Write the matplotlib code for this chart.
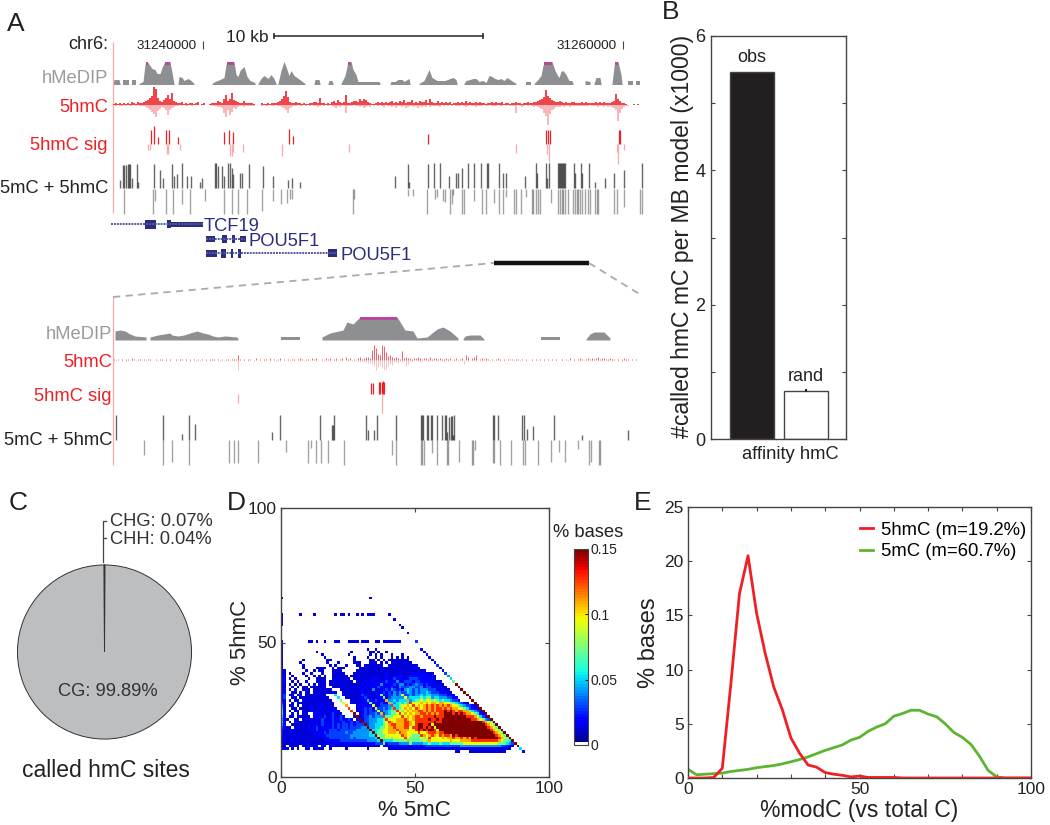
import numpy as np
import matplotlib
matplotlib.use('Agg')
import matplotlib.pyplot as plt
from matplotlib.colors import ListedColormap

plt.rcParams['font.family'] = ['Liberation Sans', 'DejaVu Sans']

W, H = 1050, 825

#panel A, x in figure pixels along the browser track, h in pixels above the baseline
MEDIP_TOP = [
    [(113,1),(114,5),(119,5),(120,1)], [(123,1),(123,5),(129,5),(129,1)], [(132,1),(132,5),(136,5),(136,1)],
    [(139,1),(143,3),(145,20),(147,23),(150,19),(152,16),(155,15),(157,11),(160,11),(162,17),(165,23),(170,23),(172,12),(174,1)],
    [(178,1),(179,8),(182,7),(184,4),(188,6),(191,4),(194,1)],
    [(212,1),(215,3),(220,5),(224,7),(226,20),(228,23),(234,23),(236,10),(238,8),(240,14),(244,18),(247,8),(250,4),(255,2),(255,1)],
    [(258,1),(261,6),(264,9),(268,6),(271,10),(274,6),(276,1)],
    [(278,1),(281,14),(284,23),(287,15),(289,9),(291,14),(294,9),(297,7),(301,4),(305,1)],
    [(314,1),(315,5),(319,5),(320,1)], [(328,1),(329,4),(332,4),(333,1)],
    [(341,1),(345,9),(348,23),(351,23),(353,15),(356,10),(358,3),(379,3),(380,1)],
    [(390,1),(391,3),(395,3),(398,5),(402,5),(404,3),(409,6),(410,1)],
    [(419,1),(424,4),(429,15),(432,7),(437,4),(445,4),(450,6),(453,7),(456,5),(457,1)],
    [(464,1),(466,4),(470,5),(473,6),(476,6),(479,3),(483,4),(486,2),(489,9),(492,8),(495,6),(498,5),(501,6),(504,4),(507,7),(510,5),(513,3),(516,1)],
    [(526,1),(526,3),(531,3),(531,1)],
    [(534,1),(538,5),(541,9),(543,19),(545,23),(552,23),(555,14),(557,10),(559,7),(561,13),(563,14),(566,10),(569,4),(572,4),(573,1)],
    [(585,1),(585,4),(590,3),(590,1)], [(594,1),(596,7),(600,7),(601,1)],
    [(612,1),(614,18),(615,23),(618,23),(621,10),(622,1)],
    [(628,1),(628,4),(633,4),(633,1)], [(636,1),(636,4),(640,4),(640,1)],
]
MEDIP_TOP_CALLS = [(146,148,23), (165,170,23), (227,234,23), (348,351,23), (544,552,23), (615,618,23)]
MEDIP_LOW = [
    [(115,1),(115,9),(120,10),(125,9),(130,6),(135,4),(146,3),(146,1)],
    [(150,1),(150,3),(158,5),(164,6),(170,7),(172,5),(178,4),(184,5),(190,7),(197,9),(203,7),(208,6),(213,4),(218,3),(225,4),(237,3),(238,1)],
    [(281,1),(281,3),(300,3),(300,1)],
    [(322,1),(322,3),(330,7),(343,10),(347,18),(353,16),(360,23),(397,23),(405,10),(413,9),(417,2),(427,3),(437,11),(443,13),(450,9),(458,2),(458,1)],
    [(463,1),(465,4),(470,5),(480,5),(484,1)],
    [(541,1),(541,3),(560,3),(560,1)],
    [(586,1),(590,6),(594,8),(604,8),(610,2),(610,1)],
]
MEDIP_LOW_CALLS = [(360,397,23)]

#signal heights per 2 px column, base 36 digits
HMC_TOP_UP = ("12121212132132234579ig74357a6c4322312122"
              "1230120012224326a46c5432242222100021121"
              "2223469e832232212112233272212134253 23a22".replace(' ', '') +
              "3443646532112323232342324352335232433526"
              "3224232323122323242322323221223232231221"
              "22322122322334568f9754334323223322232322"
              "223232322234b64221000101")
HMC_TOP_DOWN = ("010110101101011123579c64235a532110101101"
                "0000000001112238c5a734211211111000101101"
                "1011235832110110101011210101012312118111"
                "0112132120101012011213112132112131212021"
                "1112010101011101210112111011011101101011"
                "1801210101212348bk9542221211211111111101"
                "112112121235g84211000000")
HMC_LOW_UP = ("1010101102101101011001011010100101101010"
              "1010101011101010110111510101100201011020"
              "1012010101101210110212001021201201203120"
              "102312332afc65fe84532321923221223212213"
              "1221211212012012053023501212101012101011"
              "1011010100101010101010100101020101210121"
              "212312211211010121101010")
HMC_LOW_DOWN = ("0100101001010010101000101010100101001010"
                "0101001010100101001010a00101001001010010"
                "0101001010100101001001000100100100100101"
                "01121223346a758a9645223121641200121001"
                "1101101201011010140101010010101010010100"
                "0010010010010010010010010010010010010100"
                "010010100101001010100000")

SIG_TOP_UP = [(151,14),(154,18),(158,7),(166,14),(169,14),(178,7),(224,12),(229,14),(233,12),(289,15),(293,8),
              (428,10),(546,14),(548,14),(550,14),(619,14),(620,14)]
SIG_TOP_DOWN = [(148,6),(150,6),(167,10),(168,10),(180,6),(230,12),(232,12),(233,8),(243,8),(282,12),(349,8),(516,9),
                (547,10),(549,18),(617,8),(618,20),(624,6)]
SIG_LOW_UP = [(371,11),(373,11),(379,12),(380,12),(382,12),(383,13),(384,12)]
SIG_LOW_DOWN = [(238,9),(382,19)]

MC_TOP_UP = [(120,8),(123,23),(124,23),(126,23),(128,24),(129,24),(130,24),(132,10),(137,24),(138,6),(154,24),(160,18),(163,10),
             (172,24),(174,12),(177,14),(182,25),(187,12),(191,12),(200,6),(202,10),(215,25),(216,25),(218,22),(222,22),(224,12),
             (228,25),(230,25),(232,20),(233,14),(240,15),(242,15),(249,24),(263,22),(273,12),(288,8),(292,10),(300,6),
             (395,12),(408,24),(409,6),(428,24),(434,25),(440,25),(449,12),(456,15),(458,15),(462,20),(468,25),(474,25),(481,25),
             (487,25),(488,25),(499,25),(503,15),(506,15),(525,12),(536,25),(537,15),(546,25),(547,10),(549,25),
             (558,25),(559,25),(560,25),(561,25),(562,25),(563,25),(564,25),(565,25),(574,25),(575,15),(581,25),(582,15),(589,25),
             (595,6),(605,10),(614,15),(624,18),(642,25)]
MC_TOP_DOWN = [(124,25),(153,25),(155,12),(166,25),(173,25),(182,15),(190,25),(205,12),(224,25),(232,25),(238,25),(247,25),
               (262,22),(273,12),(281,15),(287,14),(290,10),(292,10),(353,25),(354,10),(408,7),(413,7),(427,25),(435,10),(437,8),
               (443,12),(445,13),(450,25),(452,15),(453,6),(462,25),(464,25),(474,12),(482,25),(486,25),(494,14),(499,25),(503,25),(506,8),
               (514,25),(516,25),(521,25),(526,8),(532,25),(533,25),(536,25),(538,25),(540,25),(551,14),(558,25),(560,25),(562,25),(563,25),
               (565,25),(568,25),(573,25),(575,25),(577,25),(578,25),(580,25),(582,25),(585,25),(588,25),(590,25),(595,25),(597,25),
               (598,25),(614,25),(617,25),(624,18),(640,25),(642,25)]
MC_LOW_UP = [(116,25),(163,25),(182,6),(189,25),(195,16),(272,8),(280,25),(320,25),(332,15),(333,15),(334,25),(366,25),(368,10),(374,10),
             (377,25),(396,25),(421,25),(422,25),(423,25),(427,25),(428,25),(431,25),(432,25),(437,25),(442,25),(445,25),(446,25),(449,23),
             (447,8),(451,24),(452,24),(453,5),(454,25),(493,25),(494,25),(498,25),(522,25),(524,25),(527,11),(533,14),(554,25),(582,5),(628,10)]
MC_LOW_DOWN = [(144,15),(163,25),(172,22),(189,25),(229,23),(234,23),(238,23),(258,23),(286,12),(308,23),(311,8),(316,23),(321,23),(328,23),
               (344,25),(392,15),(396,25),(421,25),(422,25),(424,25),(432,13),(437,25),(447,25),(448,25),(459,22),(472,25),(473,25),(475,10),
               (493,23),(494,23),(500,25),(511,25),(523,25),(525,25),(538,25),(551,22),(559,12),(565,22),(578,9),(589,25),(591,22),(599,25),(600,25)]

#gene models: x0, x1, y, height
GENE_BLOCKS = [(145,156,224,9), (167,171,224,8), (171,203,224,5),
               (206,215,239,6), (222,227,239,8), (232,235,239,8), (240,246,239,6),
               (206,217,253,7), (221,226,253,9), (231,233,253,9), (238,241,253,9), (328,337,253,8)]

#panel B
BAR_POS = [1, 2]
BAR_VALUES = [5.47, 0.72]
BAR_ERR = [0, 0.02]
BAR_TEXT = ['obs', 'rand']

#panel C
PIE_VALUES = [99.89, 0.07, 0.04]

#panel D: one group of ten characters per 10% of 5mC, rows by % 5hmC
HEAT_LEVELS = {'1': 0.012, '2': 0.02, '3': 0.03, '4': 0.042, '5': 0.052, '6': 0.072,
               '7': 0.095, '8': 0.108, '9': 0.128, 'x': 0.15}
HEAT_ROWS = {
    66: "1......... .......... .......... ...1......",
    60: "1......1.. ..1....... 1.11.1..1. 1.111..... 1.........",
    59: "1",
    58: "1......... .......... .......... .......... ..1.......",
    57: "1",
    56: "1......... .......... .......... .......... ....1.....",
    55: ".......... .......... .......... .......... .....1....",
    53: ".......... .......... .......... .......... .......1..",
    50: "1......... 11.1..1... 11...1111. 111..11.11 11111..... 3",
    49: "1", 48: "1",
    47: "1......... .......... .......... ..1..1.... .......... ..2",
    46: "1......... ...1...... ......1... ...11.1..1 .......... ...2......",
    45: "1......... .....1.... .....1.... ...1.1.1.. .1...1.... ....2.....",
    44: "1......... ......1... .......1.. ..1..1.1.. .1.1.1.1.. .....2....",
    43: "1.......1. .......11. .......1.. ...11.1.1. 11111111.. ......2...",
    42: "1......1.. .......1.. .1.....111 ...111.1.1 .11111111. .......2..",
    41: "1.......1. ........1. 1...1...11 .1111111.. 1111111111 1.......3.",
    40: "1.......1. ...1111..1 .111.....1 1111111111 1111111111 11.......2",
    39: "11.......1 ..1.11...1 111.....11 1111111111 1111111111 1211...... 2",
    38: "11.1....1. .1...1...1 1111...111 1111111112 1111111112 2222111... .3",
    37: "11..1....1 ..1.1.1..1 11111.1111 1111111112 1122211222 22222211.. ..4",
    36: "12.1.1.... 1..1111..1 111111.111 1111212112 1132221233 32222221.. ...5",
    35: "12..1.1..1 ...1111.11 1111111.11 1212212213 2224223332 3322222211 ....6",
    34: "12.1.1.1.. 1.1.111.11 1111111111 2121221412 2232442323 4332322221 1....x",
    33: "11..1.1.11 .111111..1 1111111112 1212213212 2322433344 3342332222 11....x",
    32: "12.1.1..11 1.1111111. ..11111111 2121412223 2432324543 4344433322 211....x",
    31: "12..11.1.1 1.11111111 1..1111111 2121122232 3243433543 4344543332 2211....x",
    30: "13.11.11.1 1111111... 5..1111111 3222122622 3343473343 4454554443 33221....x",
    29: "13..11.111 11111111.. .5..111111 2322122262 3444447455 5565664554 443322.... x",
    28: "21.1.11.11 111111111. ..6...1111 2252232228 4454555845 6676776765 6554332... .x",
    27: "31..1.1111 1111211111 ...7..1112 2226222322 8545656597 7787878878 8776654321 ..x",
    26: "41.11.1.11 1211121111 ....8...12 2222722333 4955677879 7878989898 9898776543 321x",
    25: "51..11.111 1211212111 2....9..12 2323273343 4595678787 9878989899 8989887765 3221x",
    24: "61.1.11.11 1212121212 21....9.12 2323237344 5669767878 8998989899 9x9x989988 65431x",
    23: "62..1.1.11 ..21212123 212....x.2 2323343834 5667978787 8899898989 9xxx9x9x98 876521x",
    22: "52.11.1111 1.21213123 2132...1x1 2334344496 6677797878 9989999x99 9xxxxxxxx9 9987532x",
    21: "421..11.11 1212132123 2232132.2x 2334445569 7778889878 99999x99x9 xxxxxxxxxx x9987643x",
    20: "52.1.11111 1212132123 2223223232 x334445567 9878889987 9999999x99 xxxxxxxxxx xxxxx9876x",
    19: "42..111111 2122132223 2323323233 3x34455567 8998889987 9xx99x7xxx xxxxxxxxxx xxxxxx9876 x",
    18: "3211.11111 2123122223 2323323333 44x4455667 8898889979 9xx9x9x7xx xxxxxxxxxx xxxxxxx987 6x",
    17: "2111111111 1213122233 3233333344 444x556677 8889888877 9x9x9xx97x xxxxxxxxxx xxxxxxxx98 76x",
    16: "2112111111 1121223233 3333433444 4445x56677 8887988777 7977899989 9xxxxxxxxx xxxxxxxxx9 876x",
    15: "2111121111 1121222333 3333334444 44455x6667 7777798776 6698789879 8998x9xxxx xxxxxxxxxx 9876x",
    14: "1211111211 1112122233 3333334344 444445x667 7677779766 6676797777 8788988989 8x9xxxxxxx x9876x",
    13: "1111211111 1112112222 2233333333 3344445x55 5566666866 6667687777 7778777888 8999999999 987665x",
    12: "1111111111 1111111212 2212222222 2222233362 3333444464 4445565556 5556666677 7777777777 7666543x",
    11: "11.1111.11 1211.11.11 1111111111 1111111.12 1222222222 2222333333 3333333444 4444444444 4433221.x",
    10: "111.1.1..1 1.1111..1. ....1..... ..1....... 1111111111 1111111111 1111111111 1111111111 111111...5",
    9: ".......... .......... .......... .......... .......... .......... .....11... 1111111111 1111...... 1",
}
CBAR_TICKS = [0, 0.05, 0.1, 0.15]
CBAR_LABELS = ['0', '0.05', '0.1', '0.15']

#panel E
MOD_X_HMC = [0, 5, 7.5, 10, 12.5, 15, 17.5, 20, 22.5, 25, 27.5, 30, 32.5, 35, 37.5, 40, 42.5, 45, 47.5, 50, 52.5, 60, 63, 100]
HMC_PCT = [0, 0, 0.05, 0.9, 8.7, 17, 20.5, 15.2, 11.5, 8.4, 6.3, 3.7, 2.3, 1.2, 1.0, 0.5, 0.35, 0.25, 0.1, 0.18, 0.05, 0.05, 0, 0]
MOD_X_MC = [0, 2.5, 5, 7.5, 10, 12.5, 15, 17.5, 20, 22.5, 25, 27.5, 30, 32.5, 35, 37.5, 40, 42.5, 45, 47.5, 50, 52.5, 55,
            57.5, 60, 62.5, 65, 67.5, 70, 72.5, 75, 77.5, 80, 82.5, 85, 87.5, 90, 92.5, 100]
MC_PCT = [0.8, 0.3, 0.35, 0.4, 0.45, 0.6, 0.7, 0.8, 0.95, 1.05, 1.15, 1.3, 1.5, 1.7, 1.95, 2.25, 2.55, 2.8, 3.05, 3.5, 3.75, 4.3, 4.7,
          5.0, 5.7, 5.95, 6.25, 6.25, 5.9, 5.65, 5.0, 4.2, 3.75, 3.1, 2.0, 0.7, 0.1, 0, 0]

SPINE = '#444444'
RED = '#ee2026'
PINK = '#f9a9ab'
NAVY = '#2b2e7e'
GREY = '#8e8f92'
PURPLE = '#b8489c'


def px_axes(x0, y0, x1, y1):
    return fig.add_axes([x0 / W, 1 - y1 / H, (x1 - x0) / W, (y1 - y0) / H])


def box_style(ax):
    for spine in ax.spines.values():
        spine.set_edgecolor(SPINE)
        spine.set_linewidth(1.0)
    ax.tick_params(direction='in', length=3, width=0.8, color=SPINE, top=True, right=True, labelcolor='#222222')


def draw_medip(segs, calls, base):
    for seg in segs:
        xs = [p[0] for p in seg]
        hs = [p[1] for p in seg]
        page.fill_between(xs, base, [base - h for h in hs], color=GREY, lw=0)
    for x0, x1, h in calls:
        page.fill_between([x0, x1], base - h, base - h + 3, color=PURPLE, lw=0)


def draw_signal(up, down, base, lw, x0=114, step=2):
    ups = [int(c, 36) for c in up]
    downs = [int(c, 36) for c in down]
    xs = x0 + step * np.arange(len(downs))
    page.vlines(xs, base, base + np.array(downs), color=PINK, lw=lw)
    xs = x0 + step * np.arange(len(ups))
    page.vlines(xs, base, base - np.array(ups), color=RED, lw=lw)


def draw_ticks(ticks, base, sign, color, lw=0.9, alpha=1.0):
    xs = [t[0] for t in ticks]
    hs = [base + sign * t[1] for t in ticks]
    page.vlines(xs, base, hs, color=color, lw=lw, alpha=alpha)


fig = plt.figure(figsize=(W / 100, H / 100), dpi=100, facecolor='white')

#whole page axes holds panel A and loose labels
page = fig.add_axes([0, 0, 1, 1])
page.set_xlim(0, W)
page.set_ylim(H, 0)
page.axis('off')
page.set_zorder(3)
page.patch.set_alpha(0)

for letter, x, y in [('A', 7, 31), ('B', 662, 19), ('C', 9, 510), ('D', 227, 510), ('E', 634, 510)]:
    page.text(x, y, letter, fontsize=19, color='#222222', ha='left', va='baseline')

page.text(108, 49, 'chr6:', fontsize=13, ha='right', va='baseline', color='#222222')
page.text(137, 49, '31240000', fontsize=9.7, ha='left', va='baseline', color='#222222')
page.text(557, 49, '31260000', fontsize=9.7, ha='left', va='baseline', color='#222222')
page.vlines([203, 622.5], 41, 49, color='#444444', lw=0.8)
page.text(226, 42, '10 kb', fontsize=12.5, ha='left', va='baseline', color='#222222')
page.plot([274, 483], [36, 36], color='#222222', lw=1.1)
page.vlines([274, 483], 33, 39, color='#222222', lw=1.1)

page.vlines(113, 42, 213, color=PINK, lw=0.9)
page.vlines(113, 297, 465, color=PINK, lw=0.9)

for label, y, col in [('hMeDIP', 83, '#9a9b9e'), ('5hmC', 112, RED), ('5hmC sig', 150, RED), ('5mC + 5hmC', 193, '#222222')]:
    page.text(108, y, label, fontsize=13.2, color=col, ha='right', va='baseline')
for label, y, col in [('hMeDIP', 339, '#9a9b9e'), ('5hmC', 367, RED), ('5hmC sig', 401, RED), ('5mC + 5hmC', 445, '#222222')]:
    page.text(112, y, label, fontsize=13.2, color=col, ha='right', va='baseline')

draw_medip(MEDIP_TOP, MEDIP_TOP_CALLS, 84.5)
draw_medip(MEDIP_LOW, MEDIP_LOW_CALLS, 340)
draw_signal(HMC_TOP_UP, HMC_TOP_DOWN, 105, 1.2)
draw_signal(HMC_LOW_UP, HMC_LOW_DOWN, 359.5, 0.5)

draw_ticks(SIG_TOP_UP, 144, -1, RED)
draw_ticks(SIG_TOP_DOWN, 144, 1, PINK)
draw_ticks(SIG_LOW_UP, 394, -1, RED)
draw_ticks(SIG_LOW_DOWN, 394, 1, PINK)

draw_ticks(MC_TOP_UP, 188, -1, 'black', lw=1.0, alpha=0.6)
draw_ticks(MC_TOP_DOWN, 189, 1, 'black', lw=1.0, alpha=0.36)
draw_ticks(MC_LOW_UP, 440, -1, 'black', lw=1.0, alpha=0.6)
draw_ticks(MC_LOW_DOWN, 440, 1, 'black', lw=1.0, alpha=0.36)

#genes
page.plot([111, 203], [224, 224], color='#55579f', lw=1.4, ls=(0, (1, 0.5)))
page.plot([206, 245], [239, 239], color='#55579f', lw=1.4, ls=(0, (1, 0.5)))
page.plot([206, 337], [253, 253], color='#55579f', lw=1.4, ls=(0, (1, 0.5)))
for x0, x1, y, h in GENE_BLOCKS:
    page.fill_between([x0, x1], y - h / 2, y + h / 2, color=NAVY, lw=0)
page.text(204, 231, 'TCF19', fontsize=13.2, color=NAVY, ha='left', va='baseline')
page.text(249, 246, 'POU5F1', fontsize=13.2, color=NAVY, ha='left', va='baseline')
page.text(341, 260, 'POU5F1', fontsize=13.2, color=NAVY, ha='left', va='baseline')

#zoom region
page.plot([494, 589], [263, 263], color='#111111', lw=3.2, solid_capstyle='butt')
page.plot([113, 494], [297, 263], color='#a9aaac', lw=1.3, ls=(0, (4, 3)))
page.plot([589, 641], [263, 295], color='#a9aaac', lw=1.3, ls=(0, (4, 3)))

#panel B
axb = px_axes(711, 36, 846, 439)
axb.bar(BAR_POS, BAR_VALUES, width=0.81, color=['#231f20', 'white'], edgecolor='#444444', linewidth=1)
axb.errorbar(BAR_POS[1], BAR_VALUES[1], yerr=BAR_ERR[1], color='#222222', lw=1.5, capsize=0)
axb.set_xlim(0.24, 2.74)
axb.set_ylim(0, 6)
axb.set_xticks([])
axb.set_yticks(range(0, 7))
axb.set_yticklabels(['0', '', '2', '', '4', '', '6'], fontsize=13)
box_style(axb)
axb.tick_params(top=False, pad=4)
axb.text(BAR_POS[0], 5.62, BAR_TEXT[0], fontsize=13, ha='center', va='baseline', color='#222222')
axb.text(BAR_POS[1], 0.86, BAR_TEXT[1], fontsize=13, ha='center', va='baseline', color='#222222')
page.text(790, 459, 'affinity hmC', fontsize=13.2, ha='center', va='baseline', color='#222222')
page.text(682, 236, '#called hmC mC per MB model (x1000)', fontsize=16.6, rotation=90, ha='center', va='center', color='#222222')

#panel C
axc = px_axes(104.5 - 91.4, 652 - 91.4, 104.5 + 91.4, 652 + 91.4)
axc.pie(PIE_VALUES, colors=['#bcbec0', '#111111', '#111111'], startangle=90.2,
        wedgeprops={'edgecolor': '#333333', 'linewidth': 0.7})
axc.set_xlim(-1.05, 1.05)
axc.set_ylim(-1.05, 1.05)
page.plot([106, 103, 103], [521, 521, 562], color='#444444', lw=0.9)
page.plot([103, 106], [538, 538], color='#444444', lw=0.9)
page.text(110, 526, 'CHG: 0.07%', fontsize=13.2, color='#333333', ha='left', va='baseline')
page.text(110, 544, 'CHH: 0.04%', fontsize=13.2, color='#333333', ha='left', va='baseline')
page.text(108, 696, 'CG: 99.89%', fontsize=13.2, color='#333333', ha='center', va='baseline')
page.text(105.5, 777, 'called hmC sites', fontsize=16.5, color='#222222', ha='center', va='baseline')

#panel D
heat = np.full((67, 100), np.nan)
for row, cells in HEAT_ROWS.items():
    for col, c in enumerate(cells.replace(' ', '')):
        if c != '.':
            heat[row, col] = HEAT_LEVELS[c]
cols = plt.get_cmap('jet')(np.linspace(0, 1, 64))
cols[0] = [1, 1, 1, 1]
axd = px_axes(280.7, 508, 549, 777)
mesh = axd.pcolormesh(np.arange(101), np.arange(68), heat, cmap=ListedColormap(cols), vmin=0, vmax=0.15)
axd.set_xlim(0, 100)
axd.set_ylim(0, 100)
axd.set_xticks([0, 50, 100])
axd.set_yticks([0, 50, 100])
box_style(axd)
axd.tick_params(labelsize=12.5, pad=3)
axd.set_xlabel('% 5mC', fontsize=16, labelpad=3, color='#222222')
page.text(241, 642, '% 5hmC', fontsize=16, rotation=90, ha='center', va='center', color='#222222')
cax = px_axes(574, 549, 588, 745)
cbar = fig.colorbar(mesh, cax=cax)
cbar.set_ticks(CBAR_TICKS)
cbar.set_ticklabels(CBAR_LABELS)
cbar.ax.tick_params(labelsize=10, length=2, width=0.7, pad=2, direction='in', labelcolor='#222222')
cbar.outline.set_edgecolor(SPINE)
page.text(553, 537, '% bases', fontsize=13.2, color='#222222', ha='left', va='baseline')

#panel E
axe = px_axes(688, 507, 1031, 778)
axe.plot(MOD_X_MC, MC_PCT, color='#5cb531', lw=2, label='5mC (m=60.7%)', zorder=2)
axe.plot(MOD_X_HMC, HMC_PCT, color=RED, lw=2, label='5hmC (m=19.2%)', zorder=3)
axe.set_xlim(0, 100)
axe.set_ylim(0, 25)
axe.set_xticks(range(0, 101, 10))
axe.set_xticklabels(['0', '', '', '', '', '50', '', '', '', '', '100'])
axe.set_yticks(range(0, 26, 5))
box_style(axe)
axe.tick_params(labelsize=12.5, pad=3)
axe.set_xlabel('%modC (vs total C)', fontsize=16.5, labelpad=1, color='#222222')
axe.set_ylabel('% bases', fontsize=17, labelpad=3, color='#222222')
handles, labels = axe.get_legend_handles_labels()
axe.legend(handles[::-1], labels[::-1], frameon=False, fontsize=13.3, loc='upper right', handlelength=0.7, handletextpad=0.4,
           labelspacing=0.25, borderaxespad=0.1, bbox_to_anchor=(1.0125, 0.98))

fig.savefig('out.png', dpi=100)
